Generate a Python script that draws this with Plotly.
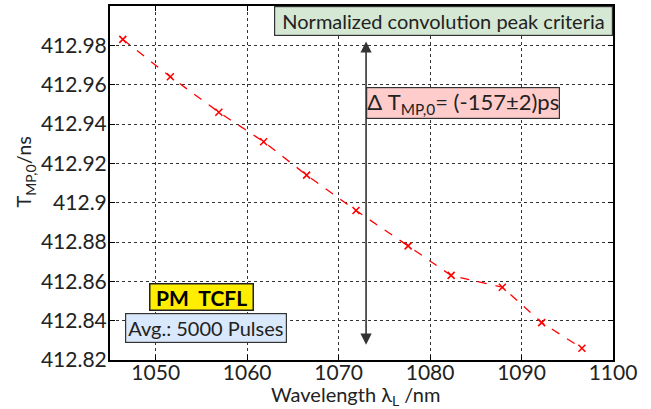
import plotly.graph_objects as go

wavelength = [1046.4, 1051.6, 1056.9, 1061.8, 1066.5, 1071.9, 1077.6, 1082.3, 1087.9, 1092.2, 1096.6]
t_mp0 = [412.983, 412.964, 412.946, 412.931, 412.914, 412.896, 412.878, 412.863, 412.857, 412.839, 412.826]

x_ticks = [1050, 1060, 1070, 1080, 1090, 1100]
y_ticks = [412.82, 412.84, 412.86, 412.88, 412.90, 412.92, 412.94, 412.96, 412.98]
y_tick_text = ["412.82", "412.84", "412.86", "412.88", "412.9", "412.92", "412.94", "412.96", "412.98"]

FONT = "Lato"
TXT = "#222222"
NB = "\u00a0"

fig = go.Figure()
fig.add_trace(go.Scatter(
    x=wavelength, y=t_mp0, mode="lines+markers",
    line=dict(color="#ff0000", width=1.3, dash="dash"),
    marker=dict(symbol="x-thin", size=7, line=dict(color="#ff0000", width=1.6), color="#ff0000"),
    showlegend=False,
))

axis_common = dict(
    showline=True, linecolor="black", linewidth=2, mirror="ticks",
    ticks="inside", ticklen=5, tickcolor="black",
    showgrid=True, gridcolor="#333333", griddash="dot", gridwidth=1,
    zeroline=False, automargin=False,
    tickfont=dict(family=FONT, size=21, color=TXT),
)

fig.update_layout(
    width=651, height=409,
    margin=dict(l=110, r=38, t=6, b=49),
    paper_bgcolor="white", plot_bgcolor="white",
    font=dict(family=FONT, color=TXT),
    xaxis=dict(range=[1045, 1100], tickvals=x_ticks, ticklabelstandoff=-7, **axis_common),
    yaxis=dict(range=[412.82, 413.0], tickvals=y_ticks, ticktext=y_tick_text, ticklabelstandoff=-3, **axis_common),
)

# axis titles
fig.add_annotation(x=0.5, y=0, xref="paper", yref="paper", xanchor="center", yanchor="top",
                   yshift=-20, xshift=-6, text="Wavelength λ<sub>L</sub> /nm", showarrow=False,
                   font=dict(family=FONT, size=20, color=TXT))
fig.add_annotation(x=0, y=0.531, xref="paper", yref="paper", xanchor="right", yanchor="middle",
                   xshift=-70, textangle=-90, text="T<sub>MP,0</sub>/ns", showarrow=False,
                   font=dict(family=FONT, size=20, color=TXT))

# double-headed arrow
fig.add_annotation(x=1073.0, y=412.982, ax=1073.0, ay=412.827, xref="x", yref="y", axref="x", ayref="y",
                   showarrow=True, arrowhead=2, startarrowhead=2, arrowside="end+start",
                   arrowsize=1.4, startarrowsize=1.4, arrowwidth=1.6, arrowcolor="#333333", text="")

# top box
fig.add_annotation(x=1, y=1, xref="paper", yref="paper", xanchor="right", yanchor="top",
                   text=NB + "Normalized convolution peak criteria" + NB, showarrow=False,
                   font=dict(family=FONT, size=20, color=TXT),
                   bgcolor="#d5e8d4", bordercolor="#333333", borderwidth=1.2, borderpad=2)

# delta T box
fig.add_annotation(x=1073.0, y=412.9505, xref="x", yref="y", xanchor="left", yanchor="middle",
                   text="Δ T<sub>MP,0</sub>= (-157±2)ps", showarrow=False,
                   font=dict(family=FONT, size=22, color=TXT),
                   bgcolor="#ffcccc", bordercolor="#333333", borderwidth=1.2, borderpad=0)

# PM TCFL box
fig.add_annotation(x=1055.0, y=412.852, xref="x", yref="y", xanchor="center", yanchor="middle",
                   text=NB + "<b>PM  TCFL</b>" + NB, showarrow=False,
                   font=dict(family=FONT, size=21, color="black"),
                   bgcolor="#ffee00", bordercolor="#222222", borderwidth=1.5, borderpad=0)

# Avg box
fig.add_annotation(x=1055.5, y=412.8363, xref="x", yref="y", xanchor="center", yanchor="middle",
                   text="Avg.: 5000 Pulses", showarrow=False,
                   font=dict(family=FONT, size=20, color=TXT),
                   bgcolor="#dae8fc", bordercolor="#333333", borderwidth=1.2, borderpad=2)

fig.write_html("out.html", config={"displayModeBar": False},
               post_script="document.body.style.margin='0';document.body.style.padding='0';")
